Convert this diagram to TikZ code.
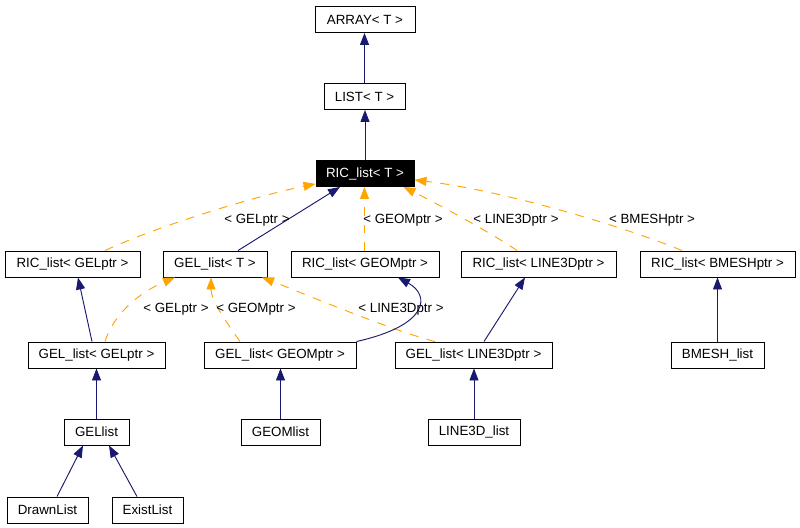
\documentclass[tikz,border=0pt]{standalone}
\usepackage{fontspec}
\setmainfont{Liberation Sans}
\usetikzlibrary{arrows.meta,calc}
\definecolor{navy}{HTML}{191970}
\definecolor{orng}{HTML}{FFA500}
\begin{document}
\begin{tikzpicture}[x=0.75pt,y=-0.75pt,
  cls/.style={draw=black,line width=0.7pt,minimum height=19.5pt,inner sep=0pt,font=\fontsize{10}{12}\selectfont},
  inh/.style={draw=navy,line width=0.7pt,-{Triangle[length=9pt,width=6.75pt]}},
  tmpl/.style={draw=orng,line width=0.7pt,dash pattern=on 6.5pt off 6.5pt,-{Triangle[length=9pt,width=6.75pt]}},
  lbl/.style={inner sep=0pt,font=\fontsize{10}{12}\selectfont}]
\useasboundingbox (0,0) rectangle (800,528);
\fill[white] (0,0) rectangle (800,528);
% nodes
\node[cls,minimum width=75pt] (ARRAY) at (365,19.5) {ARRAY< T >};
\node[cls,minimum width=60.75pt] (LIST) at (364.5,96.5) {LIST< T >};
\node[cls,minimum width=73.5pt,fill=black,text=white] (RICT) at (365,173.5) {RIC\_list< T >};
\node[cls,minimum width=101.25pt] (RICGEL) at (72.5,264) {RIC\_list< GELptr >};
\node[cls,minimum width=78pt] (GELT) at (215,264) {GEL\_list< T >};
\node[cls,minimum width=111pt] (RICGEOM) at (365,264) {RIC\_list< GEOMptr >};
\node[cls,minimum width=116.25pt] (RICL3D) at (538.5,264) {RIC\_list< LINE3Dptr >};
\node[cls,minimum width=116.25pt] (RICBM) at (717.5,264) {RIC\_list< BMESHptr >};
\node[cls,minimum width=102.75pt] (GELGEL) at (96.5,355) {GEL\_list< GELptr >};
\node[cls,minimum width=114pt] (GELGEOM) at (280,355) {GEL\_list< GEOMptr >};
\node[cls,minimum width=117.75pt] (GELL3D) at (473.5,355) {GEL\_list< LINE3Dptr >};
\node[cls,minimum width=69.75pt] (BMESHlist) at (717.5,355) {BMESH\_list};
\node[cls,minimum width=48.75pt] (GELlist) at (96.5,432) {GELlist};
\node[cls,minimum width=59.25pt] (GEOMlist) at (280.5,432) {GEOMlist};
\node[cls,minimum width=69pt] (L3Dlist) at (474,432) {LINE3D\_list};
\node[cls,minimum width=60.75pt] (Drawn) at (47.5,510) {DrawnList};
\node[cls,minimum width=53.25pt] (Exist) at (147.5,510) {ExistList};
% edges
\draw[inh] (LIST.north) -- (LIST.north |- ARRAY.south);
\draw[inh] (RICT.north) -- (RICT.north |- LIST.south);
\draw[tmpl] ($(RICGEL.north)+(32.5,0)$) .. controls (160,225) and (260,195) .. ($(RICT.south west)+(0,-3)$);
\draw[inh] ($(GELT.north)+(23,0)$) -- ($(RICT.south)+(-25,0)$);
\draw[tmpl] ($(RICGEOM.north)+(-0.5,0)$) -- ($(RICT.south)+(-0.5,0)$);
\draw[tmpl] ($(RICL3D.north)+(-21.5,0)$) .. controls (490,232) and (430,200) .. ($(RICT.south east)+(-11,0)$);
\draw[tmpl] ($(RICBM.north)+(-35.5,0)$) .. controls (620,225) and (500,190) .. ($(RICT.east)+(0,6.5)$);
\draw[inh] ($(GELGEL.north)+(-4.5,0)$) -- ($(RICGEL.south)+(5.5,0)$);
\draw[tmpl] ($(GELGEL.north)+(8.5,0)$) .. controls (115,310) and (145,290) .. ($(GELT.south)+(-40,0)$);
\draw[tmpl] ($(GELGEOM.north)+(-40,0)$) .. controls (225,320) and (211,300) .. ($(GELT.south)+(-4,0)$);
\draw[tmpl] ($(GELL3D.north)+(-38.5,0)$) .. controls (390,330) and (300,292) .. ($(GELT.south)+(47,0)$);
\draw[inh] (GELGEOM.north east) .. controls (430,325) and (430,295) .. ($(RICGEOM.south)+(33,0)$);
\draw[inh] ($(GELL3D.north)+(10.5,0)$) -- ($(RICL3D.south)+(-13.5,0)$);
\draw[inh] (BMESHlist.north) -- (BMESHlist.north |- RICBM.south);
\draw[inh] (GELlist.north) -- (GELlist.north |- GELGEL.south);
\draw[inh] (GEOMlist.north) -- (GEOMlist.north |- GELGEOM.south);
\draw[inh] (L3Dlist.north) -- (L3Dlist.north |- GELL3D.south);
\draw[inh] ($(Drawn.north)+(9.5,0)$) -- ($(GELlist.south)+(-13.5,0)$);
\draw[inh] ($(Exist.north)+(-10.5,0)$) -- ($(GELlist.south)+(12.5,0)$);
% labels
\node[lbl] (l1) at (257,220) {< GELptr >};
\node[lbl] (l2) at (403,220) {< GEOMptr >};
\node[lbl] (l3) at (516,220) {< LINE3Dptr >};
\node[lbl] (l4) at (652,220) {< BMESHptr >};
\node[lbl] (l5) at (176,309) {< GELptr >};
\node[lbl] (l6) at (256,309) {< GEOMptr >};
\node[lbl] (l7) at (401,309) {< LINE3Dptr >};
\end{tikzpicture}
\end{document}
